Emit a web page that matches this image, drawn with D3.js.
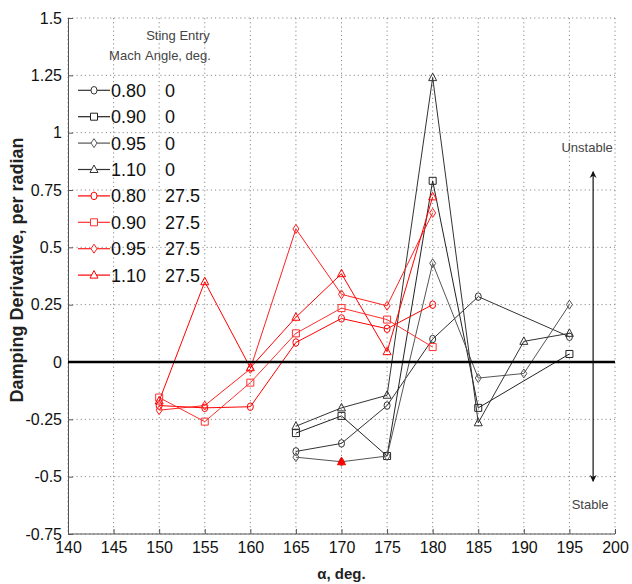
<!DOCTYPE html>
<html>
<head>
<meta charset="utf-8">
<script src="https://cdn.jsdelivr.net/npm/d3@7/dist/d3.min.js"></script>
<style>
  body { margin: 0; background: #fff; }
  svg text { font-family: "Liberation Sans Narrow", "Arial Narrow", "Liberation Sans", Arial, sans-serif; }
  .grid-line { stroke: #8a8a8a; stroke-width: 1; stroke-dasharray: 1.2,3; }
  .axis path, .axis line { stroke: #555; }
  .axis text { font-size: 16px; fill: #111; }
</style>
</head>
<body>
<div id="chart"></div>
<script>
/* Damping derivative vs alpha */

const xTicks = [140, 145, 150, 155, 160, 165, 170, 175, 180, 185, 190, 195, 200];
const yTicks = [-0.75, -0.5, -0.25, 0, 0.25, 0.5, 0.75, 1, 1.25, 1.5];

const machLabels = ["0.80", "0.90", "0.95", "1.10", "0.80", "0.90", "0.95", "1.10"];
const stingAngles = ["0", "0", "0", "0", "27.5", "27.5", "27.5", "27.5"];
const markerTypes = ["circle", "square", "diamond", "triangle", "circle", "square", "diamond", "triangle"];
const seriesColors = ["#333", "#222", "#555", "#333", "#ff0000", "#ff3030", "#ff2020", "#ff0000"];

// sting entry angle 0
const alphaBlack = [165, 170, 175, 180, 185, 190, 195];
const black080 = [-0.39, -0.355, -0.19, 0.10, 0.285, null, 0.11];
const black090 = [-0.31, -0.235, -0.41, 0.79, -0.20, null, 0.035];
const black095 = [-0.415, -0.435, -0.41, 0.43, -0.07, -0.05, 0.25];
const black110 = [-0.28, -0.20, -0.145, 1.24, -0.265, 0.09, 0.125];

// sting entry angle 27.5
const alphaRed = [150, 155, 160, 165, 170, 175, 180];
const red080 = [-0.19, -0.20, -0.195, 0.085, 0.19, 0.145, 0.25];
const red090 = [-0.155, -0.26, -0.09, 0.125, 0.235, 0.185, 0.065];
const red095 = [-0.21, -0.19, -0.03, 0.58, 0.295, 0.245, 0.65];
const red110 = [-0.17, 0.35, -0.025, 0.195, 0.385, 0.045, 0.72];

// single filled point
const filledAlpha = [170];
const filledValue = [-0.435];

// stability arrow
const arrowAlpha = 197.6;
const arrowTop = 0.83;
const arrowBottom = -0.52;

const seriesValues = [black080, black090, black095, black110, red080, red090, red095, red110];
const seriesAlpha = [alphaBlack, alphaBlack, alphaBlack, alphaBlack, alphaRed, alphaRed, alphaRed, alphaRed];

const series = seriesValues.map((vals, i) => ({
    mach: machLabels[i],
    sting: stingAngles[i],
    marker: markerTypes[i],
    color: seriesColors[i],
    points: vals.map((v, j) => ({ a: seriesAlpha[i][j], v: v })).filter(p => p.v !== null)
}));

const W = 632, H = 584;
const margin = { top: 18, right: 17, bottom: 50, left: 68 };
const width = W - margin.left - margin.right;
const height = H - margin.top - margin.bottom;

const svg = d3.select("#chart").append("svg")
    .attr("width", W)
    .attr("height", H)
    .append("g")
    .attr("transform", `translate(${margin.left},${margin.top})`);

const x = d3.scaleLinear().domain([140, 200]).range([0, width]);
const y = d3.scaleLinear().domain([-0.75, 1.5]).range([height, 0]);

// GRID
svg.selectAll(".grid-x")
    .data(xTicks)
    .enter()
    .append("line")
    .attr("class", "grid-line")
    .attr("x1", d => x(d)).attr("x2", d => x(d))
    .attr("y1", 0).attr("y2", height);

svg.selectAll(".grid-y")
    .data(yTicks)
    .enter()
    .append("line")
    .attr("class", "grid-line")
    .attr("x1", 0).attr("x2", width)
    .attr("y1", d => y(d)).attr("y2", d => y(d));

// AXES
svg.append("g")
    .attr("class", "axis")
    .attr("transform", `translate(0,${height})`)
    .call(d3.axisBottom(x).tickValues(xTicks).tickSizeInner(-5).tickSizeOuter(0).tickPadding(8).tickFormat(d => d))
    .select(".domain").attr("d", `M0,0H${width}`);

svg.append("g")
    .attr("class", "axis")
    .call(d3.axisLeft(y).tickValues(yTicks).tickSizeInner(-5).tickSizeOuter(0).tickPadding(6).tickFormat(d => String(d)));

// markers
function markerPath(type) {
    if (type === "square") return "M-3.5,-3.5H3.5V3.5H-3.5Z";
    if (type === "diamond") return "M0,-4.5L3,0L0,4.5L-3,0Z";
    if (type === "triangle") return "M0,-4.5L4,3L-4,3Z";
    return "M-3,0A3,3.8 0 1,0 3,0A3,3.8 0 1,0 -3,0Z";
}

const line = d3.line().x(d => x(d.a)).y(d => y(d.v));

const groups = svg.selectAll(".series")
    .data(series)
    .enter()
    .append("g")
    .attr("class", "series");

groups.append("path")
    .attr("d", d => line(d.points))
    .attr("fill", "none")
    .attr("stroke", d => d.color)
    .attr("stroke-width", 1);

groups.each(function(s) {
    d3.select(this).selectAll(".mk")
        .data(s.points)
        .enter()
        .append("path")
        .attr("transform", p => `translate(${x(p.a)},${y(p.v)})`)
        .attr("d", markerPath(s.marker))
        .attr("fill", "none")
        .attr("stroke", s.color)
        .attr("stroke-width", 1);
});

svg.selectAll(".filled")
    .data(filledAlpha)
    .enter()
    .append("path")
    .attr("transform", (d, i) => `translate(${x(d)},${y(filledValue[i])})`)
    .attr("d", markerPath("triangle"))
    .attr("fill", "#ff0000")
    .attr("stroke", "#ff0000");

// ZERO LINE
svg.append("line")
    .attr("x1", 0).attr("x2", width)
    .attr("y1", y(0)).attr("y2", y(0))
    .attr("stroke", "#000")
    .attr("stroke-width", 2.5);

// STABILITY ARROW
const defs = svg.append("defs");
defs.append("marker")
    .attr("id", "arrowhead")
    .attr("viewBox", "0 0 10 10")
    .attr("refX", 9).attr("refY", 5)
    .attr("markerWidth", 7).attr("markerHeight", 10)
    .attr("markerUnits", "userSpaceOnUse")
    .attr("orient", "auto-start-reverse")
    .append("path")
    .attr("d", "M0,0L10,5L0,10L3,5Z")
    .attr("fill", "#111");

svg.append("line")
    .attr("x1", x(arrowAlpha)).attr("x2", x(arrowAlpha))
    .attr("y1", y(arrowTop)).attr("y2", y(arrowBottom))
    .attr("stroke", "#111")
    .attr("stroke-width", 1.2)
    .attr("marker-start", "url(#arrowhead)")
    .attr("marker-end", "url(#arrowhead)");

svg.append("text")
    .attr("x", x(arrowAlpha) - 6)
    .attr("y", y(arrowTop) - 20)
    .attr("text-anchor", "middle")
    .attr("font-size", "13px")
    .attr("fill", "#444")
    .text("Unstable");

svg.append("text")
    .attr("x", x(arrowAlpha) - 3)
    .attr("y", y(arrowBottom) + 28)
    .attr("text-anchor", "middle")
    .attr("font-size", "13px")
    .attr("fill", "#444")
    .text("Stable");

// LEGEND
const legend = svg.append("g").attr("transform", "translate(10,0)");

legend.append("text").attr("x", 47).attr("y", 42).attr("text-anchor", "middle")
    .attr("font-size", "13px").attr("fill", "#444").text("Mach");
legend.append("text").attr("x", 100).attr("y", 22).attr("text-anchor", "middle")
    .attr("font-size", "13px").attr("fill", "#444").text("Sting Entry");
legend.append("text").attr("x", 100).attr("y", 42).attr("text-anchor", "middle")
    .attr("font-size", "13px").attr("fill", "#444").text("Angle, deg.");

const rows = legend.selectAll(".legend-row")
    .data(series)
    .enter()
    .append("g")
    .attr("class", "legend-row")
    .attr("transform", (d, i) => `translate(0,${72.3 + i * 26.4})`);

rows.append("line")
    .attr("x1", 0).attr("x2", 32)
    .attr("stroke", d => d.color)
    .attr("stroke-width", 1.2);

rows.append("path")
    .attr("transform", "translate(16,0)")
    .attr("d", d => markerPath(d.marker))
    .attr("fill", "#fff")
    .attr("stroke", d => d.color);

rows.append("text")
    .attr("x", 33)
    .attr("dy", "0.36em")
    .attr("font-size", "18px")
    .attr("fill", "#111")
    .text(d => d.mach);

rows.append("text")
    .attr("x", 87)
    .attr("dy", "0.36em")
    .attr("font-size", "18px")
    .attr("fill", "#111")
    .text(d => d.sting);

// AXIS LABELS
svg.append("text")
    .attr("transform", "rotate(-90)")
    .attr("x", -252)
    .attr("y", -45)
    .attr("text-anchor", "middle")
    .attr("font-size", "18px")
    .attr("font-weight", "bold")
    .attr("fill", "#222")
    .style("font-family", "'Liberation Sans', Arial, sans-serif")
    .text("Damping Derivative, per radian");

svg.append("text")
    .attr("x", width / 2)
    .attr("y", height + 45)
    .attr("text-anchor", "middle")
    .attr("font-size", "15px")
    .attr("font-weight", "bold")
    .attr("fill", "#222")
    .text("α, deg.");
</script>
</body>
</html>
